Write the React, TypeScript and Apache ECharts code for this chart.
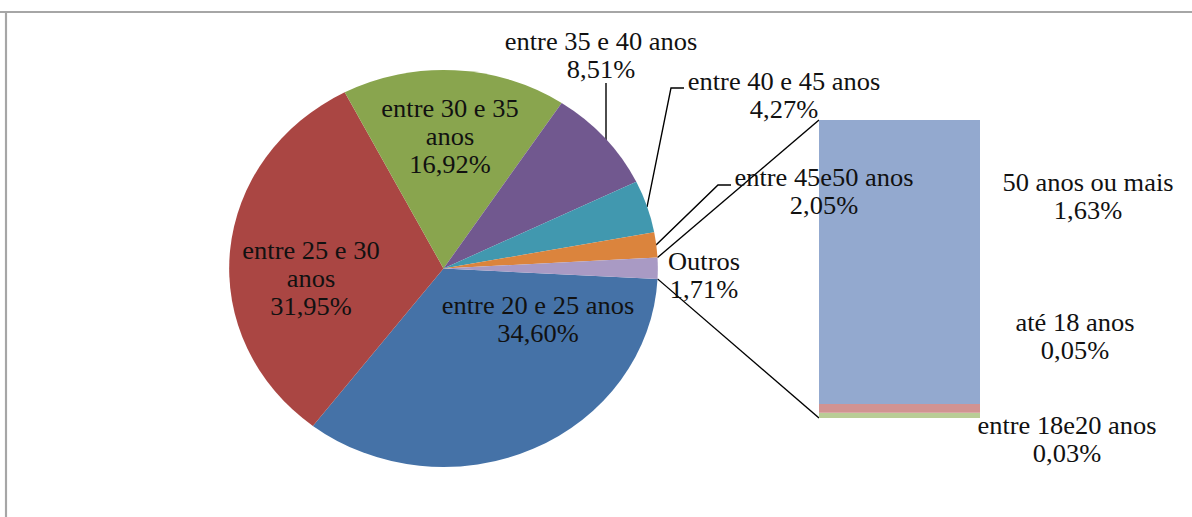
import React, { useEffect, useRef } from "react";
import * as echarts from "echarts";

// ---- data ----
const pieCategories = [
  "entre 20 e 25 anos",
  "entre 25 e 30 anos",
  "entre 30 e 35 anos",
  "entre 35 e 40 anos",
  "entre 40 e 45 anos",
  "entre 45e50 anos",
  "Outros",
];
const pieValues = [34.6, 31.95, 16.92, 8.51, 4.27, 2.05, 1.71];
const pieColors = ["#4572A7", "#AA4643", "#89A54E", "#71588F", "#4198AF", "#DB843D", "#A99AC4"];

const barCategories = ["entre 18e20 anos", "até 18 anos", "50 anos ou mais"];
const barValues = [0.03, 0.05, 1.63];
const barColors = ["#B9CD96", "#D19392", "#93A9CF"];

// ---- layout (page pixels; chart is stretched horizontally by S) ----
const W = 1104;
const H = 517;
const S = 1192 / W;
const px = (x: number) => x / S;

const CX = px(443.5);
const CY = 268.5;
const R = 198.5;
const START = 357;

const pieLabelPos: [number, number][] = [
  [538, 320],
  [311, 279],
  [450, 137],
  [601, 56],
  [784, 96],
  [824, 192],
  [704, 276],
];
const pieLabelLines: ([number, number][] | null)[] = [
  null,
  null,
  null,
  [[606, 140], [606, 112], [606, 83]],
  [[647, 207], [671, 88], [684, 88]],
  [[656, 245], [718, 185], [731, 185]],
  null,
];
const barLabelPos: [number, number][] = [
  [1067, 440],
  [1075, 337],
  [1088, 197],
];

const BAR_LEFT = px(819);
const BAR_W = px(980) - px(819);
const BAR_TOP = 120;
const BAR_H = 298;

const fmt = (v: number) => v.toFixed(2).replace(".", ",") + "%";
const wrapName = (name: string, i: number) =>
  i === 1 || i === 2 ? name.replace(/ anos$/, "\nanos") : name;

const textStyle = {
  fontFamily: "Liberation Serif",
  fontSize: 24.5,
  lineHeight: 28,
  color: "#111",
};

export default function App() {
  const ref = useRef<HTMLDivElement>(null);
  useEffect(() => {
    if (!ref.current) return;
    const chart = echarts.init(ref.current, undefined, { renderer: "svg" });

    const total = pieValues.reduce((a, b) => a + b, 0);
    const before = pieValues.slice(0, pieValues.length - 1).reduce((a, b) => a + b, 0);
    const aTop = ((START - (before / total) * 360) * Math.PI) / 180;
    const aBot = ((START - 360) * Math.PI) / 180;
    const pTop = [CX + R * Math.cos(aTop), CY - R * Math.sin(aTop)];
    const pBot = [CX + R * Math.cos(aBot), CY - R * Math.sin(aBot)];
    const barTotal = barValues.reduce((a, b) => a + b, 0);

    const option: any = {
      animation: false,
      backgroundColor: "#ffffff",
      textStyle: { fontFamily: "Liberation Serif" },
      grid: { left: BAR_LEFT, top: BAR_TOP, width: BAR_W, height: BAR_H },
      xAxis: { type: "category", data: ["Outros"], show: false },
      yAxis: { type: "value", min: 0, max: barTotal, show: false },
      graphic: [
        {
          type: "line",
          shape: { x1: 0, y1: 12, x2: W, y2: 12 },
          style: { stroke: "#a6a6a6", lineWidth: 2 },
        },
        {
          type: "line",
          shape: { x1: px(6), y1: 12, x2: px(6), y2: H },
          style: { stroke: "#a6a6a6", lineWidth: 2 },
        },
        {
          type: "line",
          shape: { x1: pTop[0], y1: pTop[1], x2: BAR_LEFT, y2: BAR_TOP },
          style: { stroke: "#000", lineWidth: 1.3 },
        },
        {
          type: "line",
          shape: { x1: pBot[0], y1: pBot[1], x2: BAR_LEFT, y2: BAR_TOP + BAR_H },
          style: { stroke: "#000", lineWidth: 1.3 },
        },
      ],
      series: [
        {
          type: "pie",
          center: [CX, CY],
          radius: R,
          startAngle: START,
          clockwise: true,
          avoidLabelOverlap: false,
          label: {
            show: true,
            position: "outside",
            align: "center",
            ...textStyle,
            formatter: (p: any) => `${wrapName(p.name, p.dataIndex)}\n${fmt(p.value)}`,
          },
          labelLine: { show: true, lineStyle: { color: "#000", width: 1.3 } },
          labelLayout: (p: any) => {
            const i = p.dataIndex;
            const pos = pieLabelPos[i];
            const res: any = {
              x: px(pos[0]),
              y: pos[1],
              align: "center",
              verticalAlign: "middle",
            };
            const ln = pieLabelLines[i];
            if (ln) res.labelLinePoints = ln.map(([x, y]) => [px(x), y]);
            return res;
          },
          data: pieCategories.map((name, i) => ({
            name,
            value: pieValues[i],
            itemStyle: { color: pieColors[i] },
            labelLine: { show: !!pieLabelLines[i] },
          })),
        },
        ...barCategories.map((name, i) => ({
          type: "bar",
          name,
          stack: "outros",
          barWidth: "100%",
          data: [barValues[i]],
          itemStyle: { color: barColors[i] },
          label: {
            show: true,
            ...textStyle,
            align: "center",
            formatter: (p: any) => `${p.seriesName}\n${fmt(p.value)}`,
          },
          labelLayout: () => ({
            x: px(barLabelPos[i][0]),
            y: barLabelPos[i][1],
            align: "center",
            verticalAlign: "middle",
          }),
        })),
      ],
    };
    chart.setOption(option);
    return () => chart.dispose();
  }, []);

  return (
    <div
      ref={ref}
      style={{
        position: "absolute",
        left: 0,
        top: 0,
        width: W,
        height: H,
        transform: `scaleX(${S})`,
        transformOrigin: "0 0",
        background: "#fff",
      }}
    />
  );
}
